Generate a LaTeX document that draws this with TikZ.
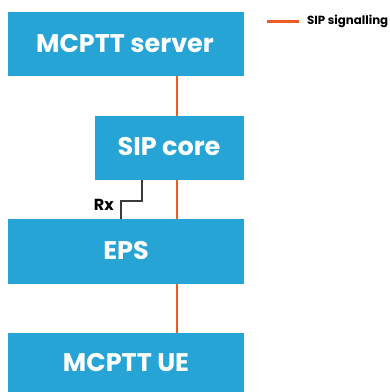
\documentclass[tikz,border=0pt]{standalone}
\usepackage{fontspec}
\setmainfont{Poppins}
\definecolor{boxblue}{HTML}{27A4D6}
\definecolor{sigorange}{HTML}{EE5B25}
\definecolor{rxgrey}{HTML}{3A3A3A}
\begin{document}
\begin{tikzpicture}[x=1pt,y=-1pt,
  entity/.style={fill=boxblue, draw=none},
  entitytext/.style={text=white, font=\bfseries\fontsize{25.5}{28}\selectfont},
  sipline/.style={draw=sigorange, line width=2.5pt},
  rxline/.style={draw=rxgrey, line width=1.2pt}]
\useasboundingbox (0,0) rectangle (390,392);
% network entities
\path[entity] (8,12) rectangle (244,76);
\node[entitytext] (server) at (125,44) {MCPTT server};
\path[entity] (95,116) rectangle (244,180);
\node[entitytext] (core) at (169,147) {SIP core};
\path[entity] (8,219) rectangle (244,284);
\node[entitytext] (eps) at (126,251) {EPS};
\path[entity] (8,333) rectangle (244,392);
\node[entitytext] (ue) at (126,363) {MCPTT UE};
% anchor points on box edges
\coordinate (serverB) at (177,76);
\coordinate (coreT) at (177,116);
\coordinate (coreB) at (177,180);
\coordinate (epsT) at (177,219);
\coordinate (epsB) at (177,284);
\coordinate (ueT) at (177,333);
\coordinate (rxA) at (142,180);
\coordinate (rxB) at (121,219);
% SIP signalling links
\draw[sipline] (serverB) -- (coreT);
\draw[sipline] (coreB) -- (epsT);
\draw[sipline] (epsB) -- (ueT);
% Rx interface
\draw[rxline] (rxA) -- (142,201) -- (121,201) -- (rxB);
\node[font=\bfseries\fontsize{16}{18}\selectfont, anchor=east, inner sep=0pt] (rx) at (114,205) {Rx};
% legend
\coordinate (legA) at (267,21);
\coordinate (legB) at (299,21);
\draw[sipline, line width=3pt] (legA) -- (legB);
\node[font=\bfseries\fontsize{11.8}{13}\selectfont, anchor=west, inner sep=0pt] (leg) at (307,21) {SIP signalling};
\end{tikzpicture}
\end{document}
